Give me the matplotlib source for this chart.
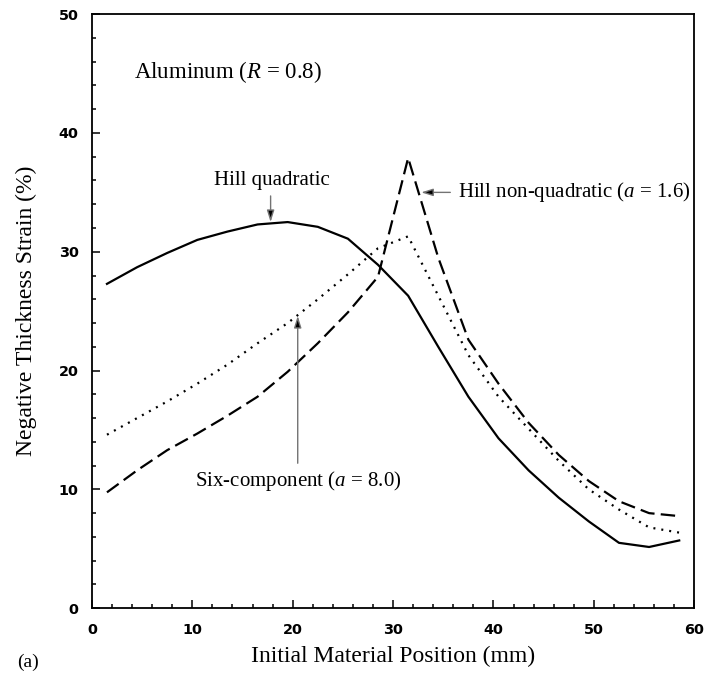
import matplotlib
matplotlib.use("Agg")
import matplotlib.pyplot as plt
from matplotlib.ticker import MultipleLocator

# Initial material position (mm) of each sampled point
position = [1.5, 4.5, 7.5, 10.5, 13.5, 16.5, 19.5, 22.5, 25.5, 28.5,
            31.5, 34.5, 37.5, 40.5, 43.5, 46.5, 49.5, 52.5, 55.5, 58.5]

# Negative thickness strain (%) for each yield criterion
hill_quadratic = [27.3, 28.7, 29.9, 31.0, 31.7, 32.3, 32.5, 32.1, 31.1, 28.9,
                  26.3, 22.0, 17.8, 14.3, 11.6, 9.3, 7.3, 5.5, 5.15, 5.7]
hill_nonquadratic = [9.75, 11.6, 13.3, 14.7, 16.2, 17.8, 19.9, 22.3, 24.9, 27.9,
                     37.9, 29.5, 22.6, 18.9, 15.6, 12.9, 10.7, 9.0, 8.0, 7.75]
six_component = [14.6, 16.0, 17.4, 18.9, 20.5, 22.3, 24.0, 26.0, 28.1, 30.3,
                 31.3, 26.3, 21.3, 17.8, 15.1, 12.4, 10.0, 8.3, 6.8, 6.36]

x_ticks = [0, 10, 20, 30, 40, 50, 60]
y_ticks = [0, 10, 20, 30, 40, 50]

plt.rcParams["font.family"] = ["Liberation Serif", "DejaVu Serif"]
plt.rcParams["mathtext.fontset"] = "custom"
plt.rcParams["mathtext.rm"] = "Liberation Serif"
plt.rcParams["mathtext.it"] = "Liberation Serif:italic"

fig = plt.figure(figsize=(7.07, 6.75), dpi=100)
ax = fig.add_axes([0.130, 0.099, 0.852, 0.880])

ax.plot(position, hill_quadratic, color="black", lw=1.6, linestyle="-")
ax.plot(position, hill_nonquadratic, color="black", lw=1.6, linestyle=(0, (6.5, 2.8)))
ax.plot(position, six_component, color="black", lw=1.6, linestyle=(0, (0.9, 2.7)))

ax.set_xlim(0, 60)
ax.set_ylim(0, 50)
ax.set_xticks(x_ticks)
ax.set_yticks(y_ticks)
ax.xaxis.set_minor_locator(MultipleLocator(2))
ax.yaxis.set_minor_locator(MultipleLocator(2))
ax.tick_params(which="both", direction="in", top=False, right=False, width=1.1)
ax.tick_params(axis="x", which="major", length=6, pad=11)
ax.tick_params(axis="y", which="major", length=6, pad=9.5)
ax.tick_params(which="minor", length=3.2)
for lab in ax.get_xticklabels() + ax.get_yticklabels():
    lab.set_fontfamily("DejaVu Sans")
    lab.set_fontweight("bold")
    lab.set_fontsize(10.4)
for sp in ax.spines.values():
    sp.set_linewidth(1.3)

ax.set_xlabel("Initial Material Position (mm)", fontsize=17)
ax.set_ylabel("Negative Thickness Strain (%)", fontsize=17)
ax.xaxis.set_label_coords(0.5, -0.064)
ax.yaxis.set_label_coords(-0.091, 0.5)

ax.text(4.2, 45.1, r"Aluminum ($R$ = 0.8)", fontsize=16.5, va="center", ha="left")

arrow = dict(arrowstyle="-|>,head_length=0.7,head_width=0.22", fc="black",
             ec="0.45", lw=1.0, shrinkA=0, shrinkB=0)

ax.text(17.9, 36.0, "Hill quadratic", fontsize=15, va="center", ha="center")
ax.annotate("", xy=(17.8, 32.5), xytext=(17.8, 34.7), arrowprops=arrow)

ax.text(36.5, 35.0, r"Hill non-quadratic ($a$ = 1.6)", fontsize=15, va="center", ha="left")
ax.annotate("", xy=(32.8, 35.0), xytext=(35.7, 35.0), arrowprops=arrow)

ax.text(10.3, 10.7, r"Six-component ($a$ = 8.0)", fontsize=15, va="center", ha="left")
ax.annotate("", xy=(20.5, 24.6), xytext=(20.5, 12.2), arrowprops=arrow)

fig.text(0.024, 0.019, "(a)", fontsize=14, va="center", ha="left")

fig.savefig("out.png", dpi=100)
